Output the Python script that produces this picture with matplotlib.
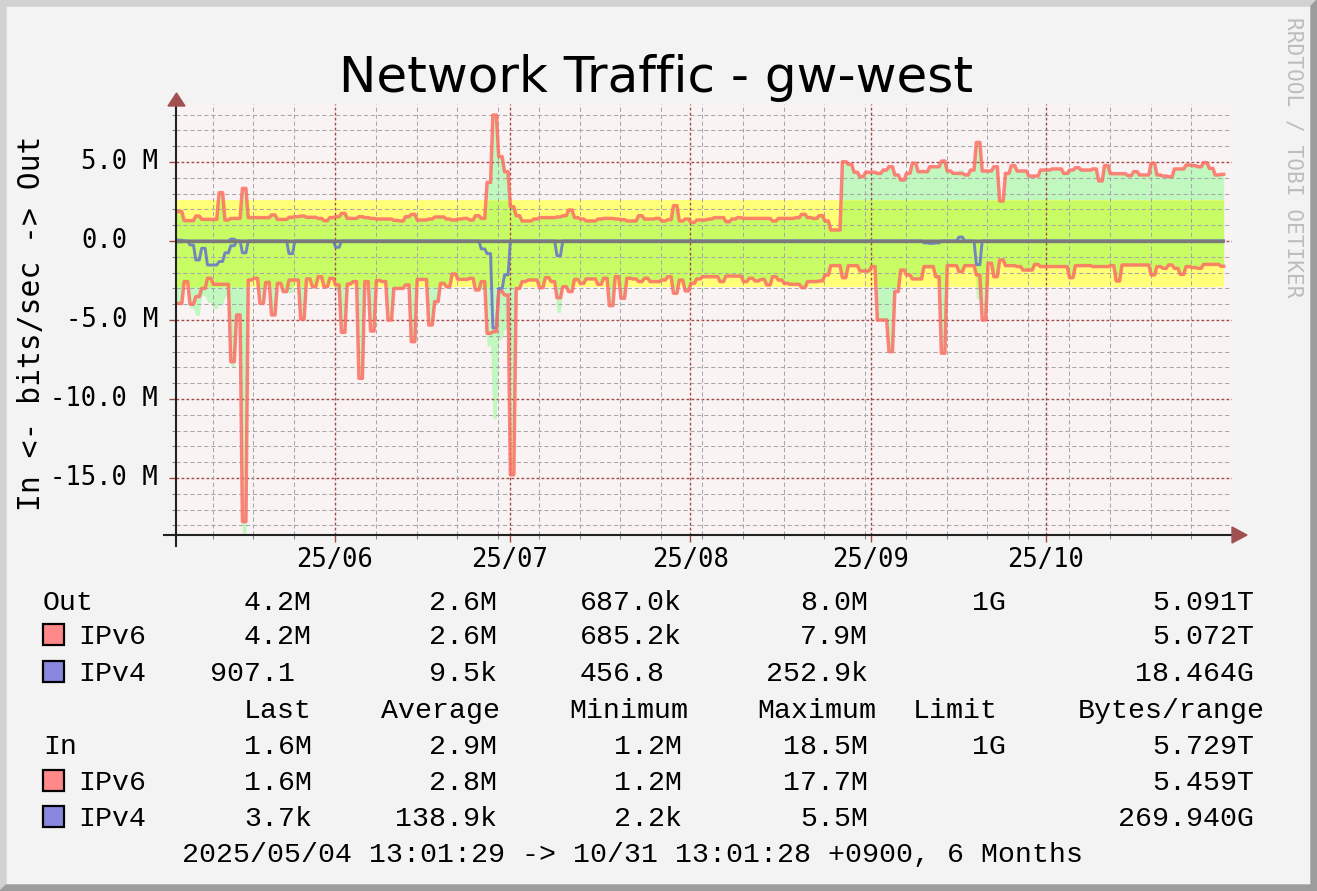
import numpy as np
import matplotlib
matplotlib.use("Agg")
import matplotlib.pyplot as plt
from matplotlib.patches import Polygon, Rectangle
from matplotlib.lines import Line2D
from matplotlib.transforms import blended_transform_factory

plt.rcParams['lines.scale_dashes'] = False

W, H, DPI = 1317, 891, 100

# ---------------- data (Mbit/s), one value per day, day 0 = 2025-05-04 ----------------
out_ipv6 = [
    1.86, 1.86, 1.29, 1.29, 1.58, 1.37, 1.37, 1.37, 3.06, 1.33,
    1.43, 1.43, 3.33, 1.48, 1.48, 1.48, 1.48, 1.65, 1.37, 1.37,
    1.50, 1.54, 1.58, 1.50, 1.50, 1.43, 1.29, 1.48, 1.54, 1.75,
    1.43, 1.43, 1.54, 1.48, 1.43, 1.39, 1.39, 1.39, 1.31, 1.27,
    1.54, 1.69, 1.33, 1.33, 1.39, 1.52, 1.52, 1.39, 1.33, 1.39,
    1.43, 1.33, 1.60, 1.43, 3.71, 7.97, 5.34, 4.39, 2.17, 1.60,
    1.27, 1.27, 1.39, 1.48, 1.48, 1.48, 1.52, 1.60, 1.96, 1.48,
    1.39, 1.27, 1.27, 1.39, 1.43, 1.43, 1.39, 1.35, 1.27, 1.27,
    1.60, 1.39, 1.39, 1.43, 1.27, 1.35, 2.24, 1.27, 1.39, 1.18,
    1.33, 1.33, 1.39, 1.48, 1.48, 1.22, 1.39, 1.48, 1.43, 1.43,
    1.43, 1.43, 1.43, 1.27, 1.43, 1.43, 1.43, 1.48, 1.69, 1.48,
    1.43, 1.60, 1.27, 0.70, 0.70, 5.02, 4.85, 4.35, 4.07, 4.35,
    4.35, 4.28, 4.49, 4.70, 4.18, 3.86, 4.28, 4.92, 4.39, 4.39,
    4.70, 4.70, 5.06, 4.43, 4.28, 4.28, 4.18, 4.49, 6.24, 4.43,
    4.43, 4.70, 2.53, 4.28, 4.77, 4.43, 4.43, 4.11, 4.11, 4.49,
    4.49, 4.56, 4.56, 4.28, 4.49, 4.64, 4.49, 4.49, 4.56, 3.80,
    4.77, 4.26, 4.26, 4.26, 4.14, 4.39, 4.18, 4.18, 4.92, 4.18,
    4.11, 4.07, 4.56, 4.56, 4.81, 4.77, 4.70, 4.96, 4.60, 4.18,
    4.22,
]
in_ipv6 = [
    3.95, 3.95, 2.57, 4.00, 3.52, 3.00, 2.36, 2.74, 2.74, 2.74,
    7.64, 4.68, 17.76, 2.47, 2.36, 3.95, 2.62, 4.68, 2.68, 3.20,
    2.47, 2.47, 4.94, 2.40, 2.89, 2.26, 2.89, 2.36, 2.78, 5.78,
    2.72, 2.57, 8.69, 2.57, 5.70, 2.50, 2.57, 5.00, 3.00, 3.00,
    2.78, 6.37, 2.43, 2.43, 5.32, 3.84, 2.68, 2.89, 2.09, 2.43,
    2.43, 2.36, 3.10, 2.57, 5.84, 5.74, 3.20, 3.42, 14.80, 3.00,
    2.57, 2.47, 2.47, 2.95, 2.32, 2.57, 3.59, 2.89, 3.20, 2.43,
    2.68, 2.40, 2.40, 2.74, 2.36, 4.09, 2.26, 3.63, 2.36, 2.40,
    2.57, 2.36, 2.57, 2.57, 2.47, 2.26, 3.31, 2.47, 3.16, 2.68,
    2.40, 2.26, 2.26, 2.26, 2.57, 2.22, 2.22, 2.22, 2.57, 2.36,
    2.53, 2.43, 2.78, 2.26, 2.47, 2.68, 2.74, 2.74, 2.95, 2.57,
    2.57, 2.53, 2.15, 1.56, 1.56, 2.32, 1.56, 1.56, 1.90, 1.90,
    1.62, 5.00, 5.00, 7.00, 3.20, 1.84, 2.15, 2.40, 2.40, 1.62,
    1.62, 2.26, 7.10, 1.56, 1.56, 1.94, 1.56, 1.56, 2.15, 5.00,
    1.41, 2.26, 1.20, 1.56, 1.56, 1.62, 1.84, 1.84, 1.48, 1.62,
    1.62, 1.62, 1.62, 1.62, 2.32, 1.56, 1.56, 1.56, 1.62, 1.62,
    1.62, 1.56, 2.53, 1.52, 1.52, 1.52, 1.52, 1.52, 2.15, 1.62,
    1.73, 1.52, 1.73, 2.11, 1.62, 1.68, 1.73, 1.48, 1.48, 1.48,
    1.60,
]
# IPv4 is ~0 most days; only the days that visibly leave zero are listed
out_ipv4_days = {0: 0.10, 1: 0.05, 10: 0.12, 135: 0.25}
in_ipv4_days = {0: 0.05, 1: 0.05, 3: 0.25, 4: 1.20, 5: 0.46, 6: 1.52, 7: 1.52,
                8: 1.30, 9: 0.75, 10: 0.30, 12: 0.75, 20: 0.80, 28: 0.40,
                53: 0.50, 54: 0.80, 55: 5.50, 56: 3.00, 57: 2.15, 66: 0.93,
                129: 0.12, 130: 0.15, 131: 0.12, 138: 1.50}

avg_out = 2.6   # Out average (legend)
avg_in = 2.9    # In average (legend)

month_days = [28, 58, 89, 120, 150]          # days after 2025-05-04 00:00
month_labels = ["25/06", "25/07", "25/08", "25/09", "25/10"]
week_days = list(range(7, 182, 7))           # Sundays
ytick_vals = [5, 0, -5, -10, -15]
ytick_labels = ["5.0 M", "0.0", "-5.0 M", "-10.0 M", "-15.0 M"]

legend_header = ["Last", "Average", "Minimum", "Maximum", "Limit", "Bytes/range"]
out_rows = [("Out", None, ["4.2M", "2.6M", "687.0k", "8.0M", "1G", "5.091T"]),
            ("IPv6", "#ff8888", ["4.2M", "2.6M", "685.2k", "7.9M", "", "5.072T"]),
            ("IPv4", "#8888e0", ["907.1 ", "9.5k", "456.8 ", "252.9k", "", "18.464G"])]
in_rows = [("In", None, ["1.6M", "2.9M", "1.2M", "18.5M", "1G", "5.729T"]),
           ("IPv6", "#ff8888", ["1.6M", "2.8M", "1.2M", "17.7M", "", "5.459T"]),
           ("IPv4", "#8888e0", ["3.7k", "138.9k", "2.2k", "5.5M", "", "269.940G"])]
footer = "2025/05/04 13:01:29 -> 10/31 13:01:28 +0900, 6 Months"
title = "Network Traffic - gw-west"

# ---------------- geometry ----------------
t0 = (13 + 1 / 60 + 29 / 3600) / 24.0      # start time in days
t_end = t0 + 180.0
PPD = 5.825                                 # pixels per day
X_ORG = 175.1                               # pixel of t0
AX_L, AX_R, AX_T, AX_B = 176.0, 1232.0, 104.0, 535.0
ZERO_Y, PPM = 241.0, 15.8

fig = plt.figure(figsize=(W / DPI, H / DPI), dpi=DPI, facecolor="#f3f3f3")

def fx(x):
    return x / W

def fy(y):
    return 1 - y / H

ax = fig.add_axes([fx(AX_L), fy(AX_B), (AX_R - AX_L) / W, (AX_B - AX_T) / H])
ax.set_facecolor("#f9f3f3")
ax.set_xlim(t0 + (AX_L - X_ORG) / PPD, t0 + (AX_R - X_ORG) / PPD)
ax.set_ylim(-(AX_B - ZERO_Y) / PPM, (ZERO_Y - AX_T) / PPM)

n = len(out_ipv6)
out6 = np.array(out_ipv6)
in6 = np.array(in_ipv6)
out4 = np.zeros(n)
in4 = np.zeros(n)
for d, v in out_ipv4_days.items():
    out4[d] = v
for d, v in in_ipv4_days.items():
    in4[d] = v

R = 0.2  # transition half-width (days) between daily plateaus

def trap(vals):
    xs, ys = [], []
    for d, v in enumerate(vals):
        a = d - 0.1
        b = min(d + 0.9, t_end)
        xs += [a + (R if d > 0 else 0), b - (R if d < len(vals) - 1 else 0)]
        ys += [v, v]
    return np.array(xs), np.array(ys)

out_tot = out6 + out4
in_tot = in6 + in4

C_GREEN = "#c0f8c0"
C_YELLOW = "#ffff78"
C_BOTH = "#c8fc64"

xo, yo = trap(out_tot)
xi, yi = trap(in_tot)
x_start, x_stop = xo[0], xo[-1]
ax.fill_between(xo, 0, yo, color=C_GREEN, lw=0, zorder=1)
ax.fill_between(xi, 0, -yi, color=C_GREEN, lw=0, zorder=1)
ax.fill_between([x_start, x_stop], 0, avg_out, color=C_YELLOW, lw=0, zorder=1.1)
ax.fill_between([x_start, x_stop], 0, -avg_in, color=C_YELLOW, lw=0, zorder=1.1)
ax.fill_between(xo, 0, np.minimum(yo, avg_out), color=C_BOTH, lw=0, zorder=1.2)
ax.fill_between(xi, 0, -np.minimum(yi, avg_in), color=C_BOTH, lw=0, zorder=1.2)

# grid
C_MIN = "#a8a8a8"
C_MAJ = "#a04a4a"
ylo, yhi = ax.get_ylim()
for v in range(int(np.ceil(ylo)), int(np.floor(yhi)) + 1):
    if v % 5 == 0:
        ax.axhline(v, color=C_MAJ, lw=1.0, ls=(0, (2.0, 1.6)), zorder=2)
    else:
        ax.axhline(v, color=C_MIN, lw=0.75, ls=(0, (3.0, 2.0)), zorder=2)
for d in week_days:
    if d not in month_days:
        ax.axvline(d, color=C_MIN, lw=0.75, ls=(0, (3.0, 2.0)), zorder=2)
for d in month_days:
    ax.axvline(d, color=C_MAJ, lw=1.0, ls=(0, (2.0, 1.6)), zorder=2)

# data lines
x4o, y4o = trap(out4)
x4i, y4i = trap(in4)
x6o, y6o = trap(out6)
x6i, y6i = trap(in6)
ax.plot(x4o, y4o, color="#6a78c8", lw=2.1, alpha=0.9, zorder=3, solid_joinstyle="round")
ax.plot(x4i, -y4i, color="#6a78c8", lw=2.1, alpha=0.9, zorder=3, solid_joinstyle="round")
ax.plot([x_start, x_stop], [0, 0], color="#7a7a7a", lw=2.4, zorder=3.5, solid_capstyle="butt")
ax.plot(x6o, y6o, color="#ff6e64", lw=2.5, alpha=0.85, zorder=4, solid_joinstyle="round")
ax.plot(x6i, -y6i, color="#ff6e64", lw=2.5, alpha=0.85, zorder=4, solid_joinstyle="round")

# axes / ticks
for s in ["top", "right"]:
    ax.spines[s].set_visible(False)
for s in ["left", "bottom"]:
    ax.spines[s].set_color("#222222")
    ax.spines[s].set_linewidth(1.5)
    ax.spines[s].set_zorder(5)
ax.set_xticks(month_days)
ax.set_xticks(week_days, minor=True)
ax.set_yticks(ytick_vals)
ax.set_yticks([v for v in range(-18, 9) if v % 5], minor=True)
ax.tick_params(axis="both", which="major", length=5, width=1.0, color=C_MAJ,
               labelbottom=False, labelleft=False)
ax.tick_params(axis="both", which="minor", length=3, width=0.8, color="#888888")

# axis extensions and arrows
fig.add_artist(Line2D([fx(164), fx(AX_L)], [fy(AX_B), fy(AX_B)], color="#222222", lw=1.5))
fig.add_artist(Line2D([fx(AX_L), fx(AX_L)], [fy(AX_B), fy(546)], color="#222222", lw=1.5))
C_ARROW = "#a05050"
fig.add_artist(Polygon([[fx(168), fy(106)], [fx(185), fy(106)], [fx(176.5), fy(93)]],
                       closed=True, color=C_ARROW, transform=fig.transFigure))
fig.add_artist(Polygon([[fx(1232), fy(527)], [fx(1232), fy(543)], [fx(1247), fy(535)]],
                       closed=True, color=C_ARROW, transform=fig.transFigure))

MONO = "DejaVu Sans Mono"
LMONO = "Liberation Mono"

# y tick labels
ytr = blended_transform_factory(fig.transFigure, ax.transData)
cw_tick = 15.4
for v, lab in zip(ytick_vals, ytick_labels):
    xr = 158 if lab.endswith("M") else 158 - 2 * cw_tick
    ax.text(fx(xr), v, lab, transform=ytr, ha="right", va="center",
            family=MONO, fontsize=18.4, color="#000000")
# x tick labels
xtr = blended_transform_factory(ax.transData, fig.transFigure)
for d, lab in zip(month_days, month_labels):
    ax.text(d, fy(567), lab, transform=xtr, ha="center", va="baseline",
            family=MONO, fontsize=18.4, color="#000000", clip_on=False)

# title, y label, watermark
fig.text(fx(656), fy(92), title, ha="center", va="baseline", family="DejaVu Sans",
         fontsize=36, color="#000000")
fig.text(fx(32), fy(323), "In <- bits/sec -> Out", rotation=90, ha="center", va="center",
         family=MONO, fontsize=21.3, color="#000000")
fig.text(fx(1293), fy(157), "RRDTOOL / TOBI OETIKER", rotation=270, ha="center", va="center",
         family=MONO, fontsize=15.2, color="#bdbdbd")

# legend
LFS = 20.3
cw = 16.95
col_right = [312, 497, 682, 868, 1006, 1254]
head_right = [312, 500, 688, 876, 998, 1265]

def rtext(xr, yb, s):
    k = len(s) - len(s.rstrip())
    if s.strip():
        fig.text(fx(xr - k * cw), fy(yb), s.rstrip(), ha="right", va="baseline",
                 family=LMONO, fontsize=LFS, color="#000000")

def draw_rows(rows, ys):
    for (name, col, vals), yb in zip(rows, ys):
        if col is None:
            fig.text(fx(43), fy(yb), name, ha="left", va="baseline", family=LMONO,
                     fontsize=LFS, color="#000000")
        else:
            fig.add_artist(Rectangle((fx(43), fy(yb + 1)), 21 / W, 21 / H, facecolor=col,
                                     edgecolor="#000000", lw=1.6, transform=fig.transFigure))
            fig.text(fx(78), fy(yb), name, ha="left", va="baseline", family=LMONO,
                     fontsize=LFS, color="#000000")
        for xr, s in zip(col_right, vals):
            rtext(xr, yb, s)

draw_rows(out_rows, [610, 644, 681])
for xr, s in zip(head_right, legend_header):
    rtext(xr, 718, s)
draw_rows(in_rows, [754, 790, 826])
fig.text(fx(632.5), fy(862), footer, ha="center", va="baseline", family=LMONO,
         fontsize=LFS, color="#000000")

# 3D frame
B = 6
fig.add_artist(Polygon([[0, 1], [1, 1], [1 - fx(B), fy(B)], [fx(B), fy(B)], [fx(B), fy(H - B)], [0, 0]],
                       closed=True, color="#d2d2d2", transform=fig.transFigure))
fig.add_artist(Polygon([[1, 1], [1, 0], [0, 0], [fx(B), fy(H - B)], [1 - fx(B), fy(H - B)], [1 - fx(B), fy(B)]],
                       closed=True, color="#9c9c9c", transform=fig.transFigure))

fig.savefig("out.png", dpi=DPI, facecolor=fig.get_facecolor())
